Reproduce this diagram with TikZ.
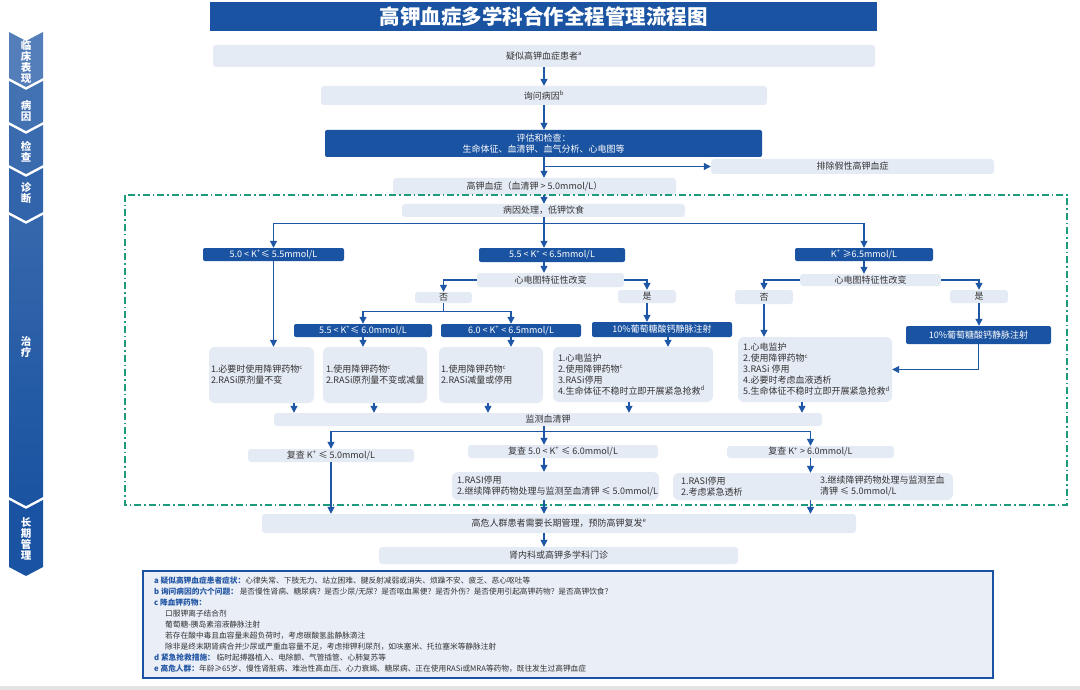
\documentclass[tikz,border=0pt]{standalone}
\usepackage{fontspec}
\setmainfont{Noto Sans CJK SC}
\usetikzlibrary{arrows.meta,calc}
\definecolor{dblue}{HTML}{1A53A1}
\definecolor{lboxc}{HTML}{E5EBF5}
\definecolor{abl}{HTML}{1F57A7}
\definecolor{frm}{HTML}{1E9A7C}
\definecolor{txt}{HTML}{333333}
\definecolor{legbg}{HTML}{E9EEF7}
\definecolor{labc}{HTML}{2457A5}
\newcommand\mybox[7]{\node[#1, minimum width={(#5)-(#3)}, minimum height={(#6)-(#4)}] (#2) at ({((#3)+(#5))/2},{((#4)+(#6))/2}) {#7};}
\newcommand\chevshape[3]{\fill[#3] (9,#1) -- (26,#1+9) -- (43,#1) -- (43,#2) -- (26,#2+9) -- (9,#2) -- cycle;}
\begin{document}
\begin{tikzpicture}[x=1pt,y=-1pt,
  lb/.style={fill=lboxc, rounded corners=3pt, inner sep=0pt, align=center, font=\fontsize{9}{11}\selectfont, text=txt},
  db/.style={fill=dblue, rounded corners=2pt, inner sep=0pt, align=center, font=\fontsize{9}{11}\selectfont, text=white},
  tbar/.style={fill=dblue, inner sep=0pt, text=white, font=\fontsize{20.5}{22}\selectfont\bfseries},
  tb/.style={fill=lboxc, rounded corners=6pt, inner sep=0pt},
  tx/.style={font=\fontsize{9}{11}\selectfont, align=left, inner sep=0pt, anchor=west, text=txt},
  side/.style={text=white, font=\fontsize{10.5}{10.8}\selectfont\bfseries, align=center, inner sep=0pt},
  legt/.style={font=\fontsize{7.7}{9}\selectfont, anchor=west, inner sep=0pt, text=txt},
  arr/.style={draw=abl, line width=1.2pt, -{Triangle[length=7pt,width=7pt]}},
  ln/.style={draw=abl, line width=1.2pt},
]
\useasboundingbox (0,0) rectangle (1080,690);
\fill[white] (0,0) rectangle (1080,690);
\fill[gray!22] (0,686) rectangle (1080,690);

% sidebar
\chevshape{32}{78}{dblue!75!white}
\chevshape{81}{122}{dblue!82!white}
\chevshape{125}{165}{dblue!86!white}
\chevshape{168}{212}{dblue!90!white}
\shade[top color=dblue!88!white, bottom color=dblue] (9,215) -- (26,224) -- (43,215) -- (43,497) -- (26,506) -- (9,497) -- cycle;
\chevshape{500}{567}{dblue}
\node[side] (s1) at (26,62) {临\\床\\表\\现};
\node[side] (s2) at (26,111) {病\\因};
\node[side] (s3) at (26,152) {检\\查};
\node[side] (s4) at (26,193) {诊\\断};
\node[side] (s5) at (26,347) {治\\疗};
\node[side] (s6) at (26,539) {长\\期\\管\\理};

% title
\mybox{tbar}{title}{210}{2}{877}{31}{高钾血症多学科合作全程管理流程图}

% top flow
\mybox{lb}{n1}{213}{45}{875}{67}{疑似高钾血症患者\textsuperscript{a}}
\mybox{lb}{n2}{321}{86}{767}{105}{询问病因\textsuperscript{b}}
\mybox{db}{n3}{325}{130}{762}{157}{评估和检查：\\生命体征、血清钾、血气分析、心电图等}
\mybox{lb}{n5}{711}{159}{994}{174}{排除假性高钾血症}
\mybox{lb}{n4}{393}{178}{676}{195}{高钾血症（血清钾 > 5.0mmol/L）}
\mybox{lb}{n6}{402}{204}{685}{217}{病因处理，低钾饮食}

\mybox{db}{n7a}{203}{248}{344}{261}{5.0 < K\textsuperscript{+}≤ 5.5mmol/L}
\mybox{db}{n7b}{479}{248}{625}{262}{5.5 < K\textsuperscript{+} < 6.5mmol/L}
\mybox{db}{n7c}{795}{248}{933}{261}{K\textsuperscript{+} ≥6.5mmol/L}
\mybox{lb}{n8b}{477}{273}{624}{287}{心电图特征性改变}
\mybox{lb}{n8c}{800}{274}{941}{286}{心电图特征性改变}
\mybox{lb}{n9a}{415}{292}{472}{303}{否}
\mybox{lb}{n9b}{618}{290}{676}{303}{是}
\mybox{lb}{n9c}{735}{290}{793}{304}{否}
\mybox{lb}{n9d}{950}{290}{1008}{303}{是}
\mybox{db}{n10a}{294}{324}{432}{337}{5.5 < K\textsuperscript{+}≤ 6.0mmol/L}
\mybox{db}{n10b}{441}{324}{581}{337}{6.0 < K\textsuperscript{+} < 6.5mmol/L}
\mybox{db}{n10c}{592}{322}{732}{337}{10\%葡萄糖酸钙静脉注射}
\mybox{db}{n10d}{906}{326}{1051}{344}{10\%葡萄糖酸钙静脉注射}

\mybox{tb}{n11a}{209}{347}{314}{403}{}
\mybox{tb}{n11b}{323}{347}{427}{403}{}
\mybox{tb}{n11c}{439}{347}{543}{403}{}
\mybox{tb}{n11d}{553}{347}{713}{402}{}
\mybox{tb}{n11e}{738}{337}{892}{402}{}
\node[tx] (t11a) at ($(n11a.west)+(2,0)$) {1.必要时使用降钾药物\textsuperscript{c}\\2.RASi原剂量不变};
\node[tx] (t11b) at ($(n11b.west)+(3,0)$) {1.使用降钾药物\textsuperscript{c}\\2.RASi原剂量不变或减量};
\node[tx] (t11c) at ($(n11c.west)+(2,0)$) {1.使用降钾药物\textsuperscript{c}\\2.RASi减量或停用};
\node[tx] (t11d) at ($(n11d.west)+(5,0)$) {1.心电监护\\2.使用降钾药物\textsuperscript{c}\\3.RASi停用\\4.生命体征不稳时立即开展紧急抢救\textsuperscript{d}};
\node[tx] (t11e) at ($(n11e.west)+(5,0)$) {1.心电监护\\2.使用降钾药物\textsuperscript{c}\\3.RASi 停用\\4.必要时考虑血液透析\\5.生命体征不稳时立即开展紧急抢救\textsuperscript{d}};

\mybox{lb}{n12}{274}{413}{822}{426}{监测血清钾}
\mybox{lb}{n13a}{248}{449}{414}{462}{复查 K\textsuperscript{+} ≤ 5.0mmol/L}
\mybox{lb}{n13b}{468}{445}{658}{458}{复查 5.0 < K\textsuperscript{+} ≤ 6.0mmol/L}
\mybox{lb}{n13c}{727}{446}{894}{458}{复查 K\textsuperscript{+} > 6.0mmol/L}
\mybox{tb}{n14b}{452}{472}{659}{500}{}
\mybox{tb}{n14c}{673}{473}{953}{500}{}
\node[tx] (t14b) at ($(n14b.west)+(5,0)$) {1.RASI停用\\2.继续降钾药物处理与监测至血清钾 ≤ 5.0mmol/L};
\node[tx] (t14c1) at ($(n14c.west)+(8,0)$) {1.RASI停用\\2.考虑紧急透析};
\node[tx] (t14c2) at ($(n14c.west)+(147,0)$) {3.继续降钾药物处理与监测至血\\清钾 ≤ 5.0mmol/L};
\mybox{lb}{n16}{262}{514}{856}{533}{高危人群患者需要长期管理，预防高钾复发\textsuperscript{e}}
\mybox{lb}{n17}{379}{547}{738}{564}{肾内科或高钾多学科门诊}

% frame
\draw[frm, line width=1.3pt, dash pattern=on 7pt off 3pt on 1.5pt off 3pt] (125,195) rectangle (1067,505);

% connectors
\draw[arr] (n1.south) -- (n2.north);
\draw[arr] (n2.south) -- (n2.south |- n3.north);
\draw[arr] (n2.south |- n3.south) -- (n2.south |- n4.north);
\draw[arr] (n2.south |- n5.west) -- (n5.west);
\draw[arr] (n2.south |- n4.south) -- (n2.south |- n6.north);
\coordinate (j0) at (n2.south |- n6.south);
\coordinate (j1) at ($(j0)+(0,6)$);
\draw[ln] (j0) -- (j1);
\draw[arr] (j1) -| (n7a.north);
\draw[arr] (j1) -| (n7c.north);
\draw[arr] (j1) -- (j1 |- n7b.north);
\draw[arr] (j1 |- n7b.south) -- (j1 |- n8b.north);
\draw[arr] (n8b.west) -| (n9a.north);
\draw[arr] (n8b.east) -| (n9b.north);
\coordinate (j2) at ($(n9a.south)+(0,8)$);
\draw[ln] (n9a.south) -- (j2);
\draw[arr] (j2) -| (n10a.north);
\draw[arr] (j2) -| (n10b.north);
\draw[arr] (n9b.south) -- (n9b.south |- n10c.north);
\draw[arr] (n7a.south) -- (n7a.south |- n11a.north);
\draw[arr] (n10a.south) -- (n10a.south |- n11b.north);
\draw[arr] (n10b.south) -- (n10b.south |- n11c.north);
\coordinate (c1) at ($(n10c.south)+(6,0)$);
\draw[arr] (c1) -- (c1 |- n11d.north);
\draw[arr] (n7c.south) -- (n7c.south |- n8c.north);
\draw[arr] (n8c.west) -| (n9c.north);
\draw[arr] (n8c.east) -| (n9d.north);
\draw[arr] (n9c.south) -- (n9c.south |- n11e.north);
\draw[arr] (n9d.south) -- (n9d.south |- n10d.north);
\draw[arr] (n10d.south) |- (n11e.east);
\foreach \n/\s in {n11a/32.5,n11b/-1,n11c/-3,n11d/-4,n11e/-13} {
  \coordinate (tt) at ($(\n.south)+(\s,0)$);
  \draw[arr] (tt) -- (tt |- n12.north);
}
\coordinate (k0) at (j1 |- n12.south);
\coordinate (j3) at ($(k0)+(0,5)$);
\draw[ln] (k0) -- (j3);
\draw[arr] (j3) -| (n13a.north);
\draw[arr] (j3) -| (n13c.north);
\draw[arr] (j3) -- (j3 |- n13b.north);
\draw[arr] (j3 |- n13b.south) -- (j3 |- n14b.north);
\draw[arr] (n13c.south) -- (n13c.south |- n14c.north);
\draw[arr] (n13a.south) -- (n13a.south |- n16.north);
\draw[arr] (j3 |- n14b.south) -- (j3 |- n16.north);
\draw[arr] (n13c.south |- n14c.south) -- (n13c.south |- n16.north);
\draw[arr] (j3 |- n16.south) -- (j3 |- n17.north);

% legend
\node[draw=dblue, line width=1.5pt, fill=legbg, minimum width=850, minimum height=107, inner sep=0pt] (leg) at (568,624.5) {};
\node[legt] (la) at (154,581) {{\color{labc}\bfseries a 疑似高钾血症患者症状：}心律失常、下肢无力、站立困难、腱反射减弱或消失、烦躁不安、疲乏、恶心呕吐等};
\node[legt] (lbb) at (154,592) {{\color{labc}\bfseries b 询问病因的六个问题：}\ 是否慢性肾病、糖尿病？是否少尿/无尿？是否呕血黑便？是否外伤？是否使用引起高钾药物？是否高钾饮食？};
\node[legt] (lc) at (154,603) {{\color{labc}\bfseries c 降血钾药物：}};
\node[legt] (lc1) at (165,614) {口服钾离子结合剂};
\node[legt] (lc2) at (165,625) {葡萄糖-胰岛素溶液静脉注射};
\node[legt] (lc3) at (165,636) {若存在酸中毒且血容量未超负荷时，考虑碳酸氢盐静脉滴注};
\node[legt] (lc4) at (165,647) {除非是终末期肾病合并少尿或严重血容量不足，考虑排钾利尿剂，如呋塞米、托拉塞米等静脉注射};
\node[legt] (ld) at (154,658) {{\color{labc}\bfseries d 紧急抢救措施：}\ 临时起搏器植入、电除颤、气管插管、心肺复苏等};
\node[legt] (le) at (154,669) {{\color{labc}\bfseries e 高危人群：}年龄≥65岁、慢性肾脏病、难治性高血压、心力衰竭、糖尿病、正在使用RASi或MRA等药物，既往发生过高钾血症};
\end{tikzpicture}
\end{document}
